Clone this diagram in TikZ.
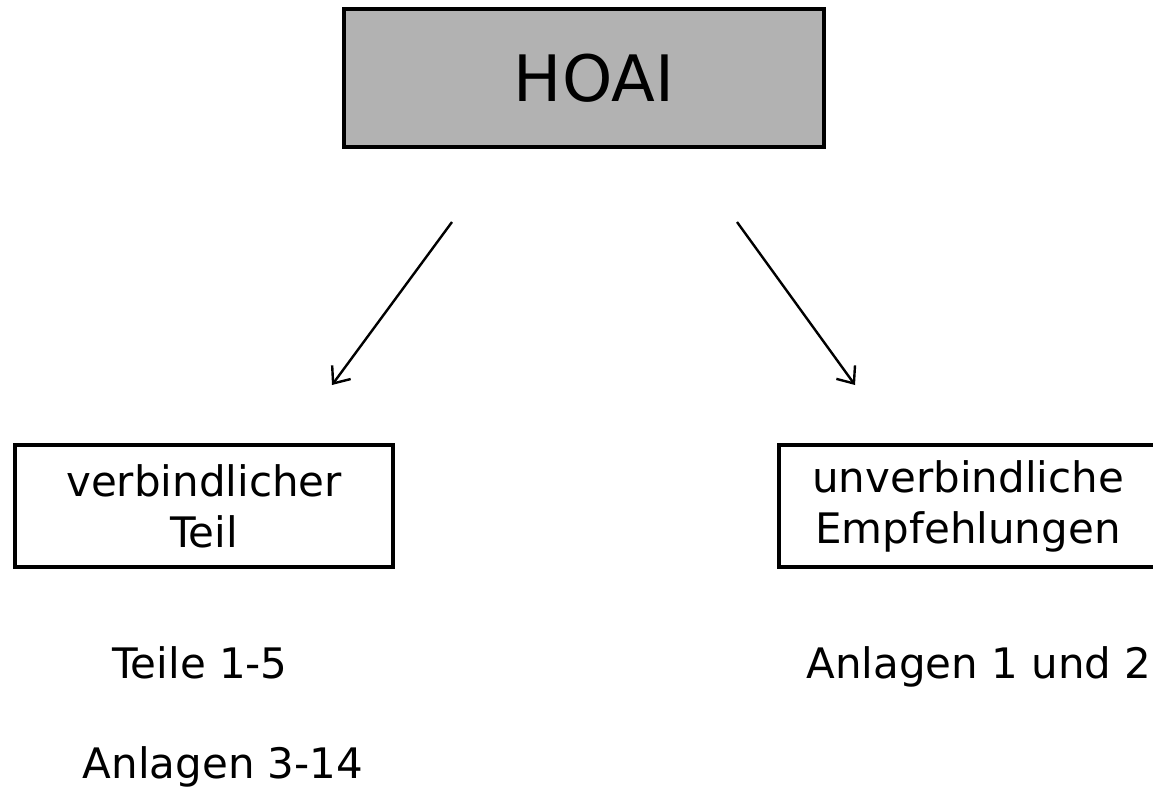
\documentclass[tikz,border=0pt]{standalone}
\usepackage{fontspec}
\setmainfont{DejaVu Sans}
\usetikzlibrary{arrows.meta}

\tikzset{
	kasten/.style={draw=black,line width=4pt,rectangle,minimum width=378pt,minimum height=122pt,inner sep=0pt,align=center,font=\fontsize{42}{51}\selectfont},
	teiltext/.style={anchor=base,inner sep=0pt,font=\fontsize{42}{51}\selectfont},
	pfeil/.style={line width=2.4pt,-{Straight Barb[length=14pt,width=23pt,line width=2.4pt]}}
}

\begin{document}
\begin{tikzpicture}[x=1pt,y=-1pt]
			\clip (0,0) rectangle (1153,789);
			
			\node[draw=black,fill=black!30,line width=4.5pt,minimum width=480pt,minimum height=138pt,inner sep=0pt,font=\fontsize{64}{77}\selectfont] (hoai) at (584,78) {\hspace{20pt}HOAI};
			
			\node[kasten] (verbindlich) at (204,506) {verbindlicher\\Teil};
			\node[kasten] (unverbindlich) at (968,506) {unverbindliche\\Empfehlungen};
			
			\node[teiltext] (teile) at (200,678) {Teile 1-5};
			\node[teiltext] (anlagenl) at (223,778) {Anlagen 3-14};
			\node[teiltext] (anlagenr) at (979,678) {Anlagen 1 und 2};
			
			\coordinate (la) at (452,222);
			\coordinate (le) at (332,385);
			\coordinate (ra) at (737,222);
			\coordinate (re) at (855,385);
			\draw[pfeil] (la) -- (le);
			\draw[pfeil] (ra) -- (re);
		\end{tikzpicture}
\end{document}
